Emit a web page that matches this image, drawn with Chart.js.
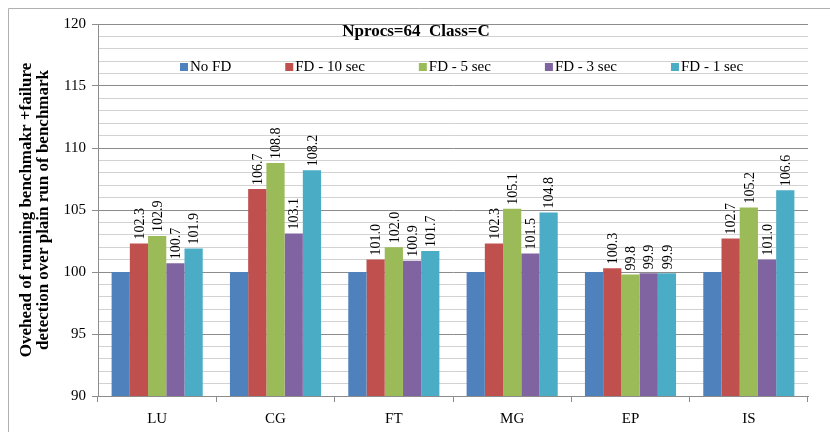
<!DOCTYPE html>
<html>
<head>
<meta charset="utf-8">
<script src="https://cdn.jsdelivr.net/npm/chart.js@4.4.1/dist/chart.umd.min.js"></script>
<style>
  html, body { margin: 0; padding: 0; background: #fff; }
  #wrap { width: 830px; height: 432px; position: relative; }
</style>
</head>
<body>
<div id="wrap"><canvas id="chart" width="830" height="432"></canvas></div>
<script>
// benchmarks
const categories = ['LU', 'CG', 'FT', 'MG', 'EP', 'IS'];
const seriesNames = ['No FD', 'FD - 10 sec', 'FD - 5 sec', 'FD - 3 sec', 'FD - 1 sec'];
const noFd   = [100, 100, 100, 100, 100, 100];
const fd10   = [102.3, 106.7, 101.0, 102.3, 100.3, 102.7];
const fd5    = [102.9, 108.8, 102.0, 105.1, 99.8, 105.2];
const fd3    = [100.7, 103.1, 100.9, 101.5, 99.9, 101.0];
const fd1    = [101.9, 108.2, 101.7, 104.8, 99.9, 106.6];
const yTicks = [90, 95, 100, 105, 110, 115, 120];

const colors = ['#4F81BD', '#C0504D', '#9BBB59', '#8064A2', '#4BACC6'];
const FONT = '"Liberation Serif", "Times New Roman", serif';

const allSeries = [noFd, fd10, fd5, fd3, fd1];

// border, title, legend and value labels
const decorPlugin = {
    id: 'decor',
    beforeDraw(chart) {
        const c = chart.ctx;
        c.save();
        c.fillStyle = '#fff';
        c.fillRect(0, 0, chart.width, chart.height);
        c.strokeStyle = '#b0b0b0';
        c.lineWidth = 1;
        c.beginPath();
        c.moveTo(8.5, chart.height);
        c.lineTo(8.5, 8.5);
        c.lineTo(chart.width, 8.5);
        c.stroke();
        c.restore();
    },
    afterDatasetsDraw(chart) {
        const c = chart.ctx;
        c.save();
        c.fillStyle = '#000';
        c.font = '14px ' + FONT;
        c.textAlign = 'left';
        c.textBaseline = 'middle';
        for (let d = 1; d < chart.data.datasets.length; d++) {
            const meta = chart.getDatasetMeta(d);
            meta.data.forEach((el, i) => {
                const v = chart.data.datasets[d].data[i];
                c.save();
                c.translate(el.x + 1, el.y - 4);
                c.rotate(-Math.PI / 2);
                c.fillText(v.toFixed(1), 0, 0);
                c.restore();
            });
        }

        // title inside plot area
        c.font = 'bold 17px ' + FONT;
        c.textAlign = 'center';
        c.fillText('Nprocs=64  Class=C', 416, 32);

        // legend row
        c.font = '15px ' + FONT;
        c.textAlign = 'left';
        let x = 180;
        const y = 67;
        seriesNames.forEach((name, i) => {
            c.fillStyle = colors[i];
            c.fillRect(x, y - 4, 8, 8);
            c.fillStyle = '#000';
            c.fillText(name, x + 10, y);
            x += 10 + c.measureText(name).width + 54;
        });
        c.restore();
    }
};

const ctx = document.getElementById('chart').getContext('2d');
new Chart(ctx, {
    type: 'bar',
    data: {
        labels: categories,
        datasets: seriesNames.map((name, i) => ({
            label: name,
            data: allSeries[i],
            backgroundColor: colors[i],
            borderWidth: 0,
            categoryPercentage: 0.77,
            barPercentage: 1.0
        }))
    },
    options: {
        responsive: false,
        animation: false,
        layout: { padding: { top: 24, right: 22, bottom: 0, left: 0 } },
        plugins: {
            legend: { display: false },
            title: { display: false },
            tooltip: { enabled: false }
        },
        scales: {
            x: {
                afterFit(scale) { scale.height = 36; },
                grid: {
                    drawOnChartArea: false,
                    color: '#8c8c8c',
                    tickLength: 6
                },
                border: { color: '#8c8c8c' },
                ticks: {
                    color: '#000',
                    padding: 8,
                    font: { family: FONT, size: 15 }
                }
            },
            y: {
                min: 90,
                max: 120,
                afterFit(scale) { scale.width = 98; },
                ticks: {
                    stepSize: 1,
                    autoSkip: false,
                    color: '#000',
                    padding: 6,
                    font: { family: FONT, size: 15 },
                    callback: (v) => yTicks.includes(v) ? String(v) : ''
                },
                grid: {
                    color: (c) => yTicks.includes(c.tick.value) ? '#8c8c8c' : '#d2d2d2',
                    tickColor: (c) => yTicks.includes(c.tick.value) ? '#8c8c8c' : 'rgba(0,0,0,0)',
                    tickLength: 6
                },
                border: { color: '#8c8c8c' },
                title: {
                    display: true,
                    text: ['Ovehead of running benchmakr +failure', 'detection over plain run of benchmark'],
                    color: '#000',
                    font: { family: FONT, size: 17, weight: 'bold', lineHeight: 1.0 },
                    padding: { top: 18, bottom: 0 }
                }
            }
        }
    },
    plugins: [decorPlugin]
});
</script>
</body>
</html>
